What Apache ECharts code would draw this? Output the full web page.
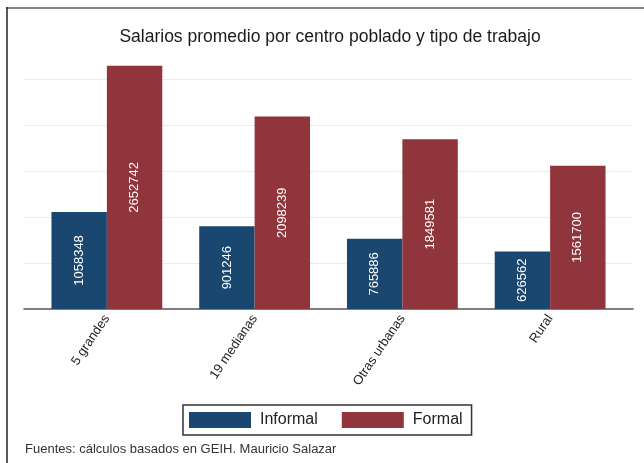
<!DOCTYPE html>
<html>
<head>
<meta charset="utf-8">
<script src="https://cdn.jsdelivr.net/npm/echarts@6/dist/echarts.min.js"></script>
<style>
  html, body { margin: 0; padding: 0; background: #fff; }
  #chart { width: 644px; height: 463px; }
</style>
</head>
<body>
<div id="chart"></div>
<script>
//--------------------------------
// Data
//--------------------------------
const categories = ['5 grandes', '19 medianas', 'Otras urbanas', 'Rural'];
const informal = [1058348, 901246, 765886, 626562];
const formal = [2652742, 2098239, 1849581, 1561700];
const seriesNames = ['Informal', 'Formal'];

const yMax = Math.max(...formal, ...informal);
const font = "'Liberation Sans', Arial, sans-serif";

const myChart = echarts.init(document.getElementById('chart'));

const barLabel = {
    show: true,
    position: 'inside',
    rotate: 90,
    color: '#fff',
    fontSize: 13,
    fontFamily: font
};

let options = {
    animation: false,
    backgroundColor: '#fff',
    title: [
        {
            text: 'Salarios promedio por centro poblado y tipo de trabajo',
            left: 330,
            top: 28,
            textAlign: 'center',
            padding: 0,
            textStyle: { fontSize: 17.5, fontWeight: 'normal', color: '#1a1a1a', fontFamily: font }
        },
        {
            text: 'Fuentes: cálculos basados en GEIH. Mauricio Salazar',
            left: 25,
            top: 443,
            padding: 0,
            textStyle: { fontSize: 13, fontWeight: 'normal', color: '#333', fontFamily: font }
        }
    ],
    legend: {
        data: seriesNames,
        left: 183,
        top: 405,
        itemWidth: 62,
        itemHeight: 16,
        itemGap: 24,
        padding: [7, 9, 7, 6],
        borderColor: '#333',
        borderWidth: 1.5,
        borderRadius: 0,
        icon: 'rect',
        textStyle: { fontSize: 16, color: '#222', fontFamily: font, padding: [0, 0, 0, 4] }
    },
    grid: [
        // background: gridlines and baseline
        { left: 24, right: 11, top: 65.7, bottom: 154 },
        // bars
        { left: 33, right: 20, top: 65.7, bottom: 154 }
    ],
    xAxis: [
        {
            gridIndex: 0,
            type: 'value',
            min: 0,
            max: 1,
            axisLine: { show: true, onZero: false, lineStyle: { color: '#555', width: 1.6 } },
            axisTick: { show: false },
            axisLabel: { show: false },
            splitLine: { show: false }
        },
        {
            gridIndex: 1,
            type: 'category',
            data: categories,
            axisLine: { show: false },
            axisTick: { show: false },
            axisLabel: {
                rotate: 56,
                margin: 7,
                fontSize: 13,
                color: '#222',
                fontFamily: font
            }
        }
    ],
    yAxis: [
        {
            gridIndex: 0,
            type: 'value',
            min: 0,
            max: yMax,
            interval: 500000,
            axisLine: { show: false },
            axisTick: { show: false },
            axisLabel: { show: false },
            splitLine: {
                show: true,
                showMinLine: false,
                showMaxLine: false,
                lineStyle: { color: '#e6eef2', width: 1 }
            }
        },
        {
            gridIndex: 1,
            type: 'value',
            min: 0,
            max: yMax,
            show: false,
            splitLine: { show: false }
        }
    ],
    series: [
        {
            name: seriesNames[0],
            type: 'bar',
            xAxisIndex: 1,
            yAxisIndex: 1,
            barGap: '0%',
            barCategoryGap: '25%',
            itemStyle: { color: '#1a476f' },
            label: barLabel,
            data: informal
        },
        {
            name: seriesNames[1],
            type: 'bar',
            xAxisIndex: 1,
            yAxisIndex: 1,
            barGap: '0%',
            barCategoryGap: '25%',
            itemStyle: { color: '#90353b' },
            label: barLabel,
            data: formal
        }
    ],
    graphic: [
        {
            type: 'line',
            shape: { x1: 6, y1: 8, x2: 644, y2: 8 },
            style: { stroke: '#888', lineWidth: 2 }
        },
        {
            type: 'line',
            shape: { x1: 7, y1: 7, x2: 7, y2: 463 },
            style: { stroke: '#222', lineWidth: 1.5 }
        }
    ]
};

myChart.setOption(options);
</script>
</body>
</html>
